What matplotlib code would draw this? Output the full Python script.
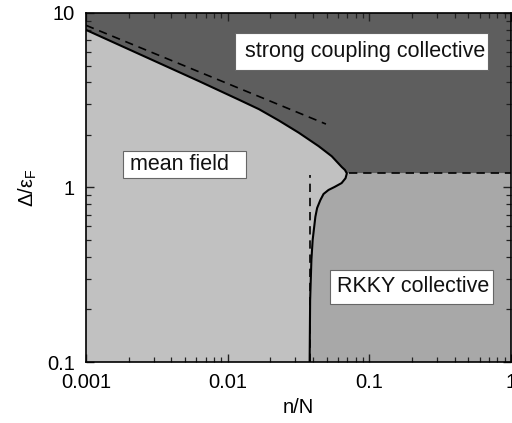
import matplotlib
matplotlib.use("Agg")
import matplotlib.pyplot as plt
from matplotlib.patches import Rectangle
from matplotlib.ticker import FixedLocator, FixedFormatter, LogLocator, NullFormatter

plt.rcParams['font.family'] = ['Liberation Sans', 'DejaVu Sans']
plt.rcParams['mathtext.fontset'] = 'custom'
plt.rcParams['mathtext.rm'] = 'Liberation Sans'
plt.rcParams['mathtext.it'] = 'Liberation Sans:italic'

# Phase boundary (solid): upper branch to the nose, then lower branch
upper_x = [0.001, 0.00631, 0.01205, 0.01664, 0.02298, 0.03177, 0.04387, 0.0543, 0.0639, 0.0673, 0.0694]
upper_y = [8.0, 4.06, 3.18, 2.81, 2.42, 2.06, 1.725, 1.51, 1.31, 1.26, 1.205]
lower_x = [0.0694, 0.0679, 0.0637, 0.0568, 0.0515, 0.0475, 0.0451, 0.0428, 0.0416, 0.0398, 0.039, 0.0382, 0.0379]
lower_y = [1.205, 1.13, 1.06, 1.007, 0.968, 0.918, 0.847, 0.763, 0.68, 0.50, 0.385, 0.226, 0.1]

# dashed asymptotes
dash1_x = [0.001, 0.0494]
dash1_y = [8.5, 2.31]
vdash_x = [0.0379, 0.0379]
vdash_y = [0.1, 1.18]
hdash_x = [0.0713, 1.0]
hdash_y = [1.205, 1.205]

xlim = (0.001, 1.0)
ylim = (0.1, 10.0)
xticks = [0.001, 0.01, 0.1, 1]
xticklabels = ['0.001', '0.01', '0.1', '1']
yticks = [0.1, 1, 10]
yticklabels = ['0.1', '1', '10']

region_labels = ['mean field', 'strong coupling collective', 'RKKY collective']

c_light = '#c1c1c1'
c_mid = '#a8a8a8'
c_dark = '#5e5e5e'

fig = plt.figure(figsize=(5.12, 4.23), dpi=100)
ax = fig.add_axes([86/512, 61/423, 425/512, 349/423])
ax.set_xscale('log')
ax.set_yscale('log')
ax.set_xlim(*xlim)
ax.set_ylim(*ylim)
ax.set_facecolor(c_light)

# dark region
dx = upper_x + [xlim[1], xlim[1], xlim[0]]
dy = upper_y + [hdash_y[0], ylim[1], ylim[1]]
ax.fill(dx, dy, color=c_dark, lw=0, zorder=1)
# medium region
mx = lower_x + [xlim[1], xlim[1]]
my = lower_y + [ylim[0], hdash_y[0]]
ax.fill(mx, my, color=c_mid, lw=0, zorder=1)

ax.plot(upper_x + lower_x[1:], upper_y + lower_y[1:], color='black', lw=1.5, zorder=3,
        solid_joinstyle='round')
for xs, ys in [(dash1_x, dash1_y), (vdash_x, vdash_y), (hdash_x, hdash_y)]:
    ax.plot(xs, ys, color='black', lw=1.2, dashes=(5, 3.5), zorder=3)

ax.xaxis.set_major_locator(FixedLocator(xticks))
ax.xaxis.set_major_formatter(FixedFormatter(xticklabels))
ax.yaxis.set_major_locator(FixedLocator(yticks))
ax.yaxis.set_major_formatter(FixedFormatter(yticklabels))
ax.xaxis.set_minor_locator(LogLocator(base=10, subs=range(2, 10)))
ax.yaxis.set_minor_locator(LogLocator(base=10, subs=range(2, 10)))
ax.xaxis.set_minor_formatter(NullFormatter())
ax.yaxis.set_minor_formatter(NullFormatter())
ax.tick_params(which='both', direction='in', top=True, right=True, labelsize=14.5, color='#222222')
ax.tick_params(which='major', length=6, width=1.0, pad=8)
ax.tick_params(which='minor', length=3.5, width=0.9)
for s in ax.spines.values():
    s.set_linewidth(1.2)
    s.set_zorder(5)

ax.set_xlabel('n/N', fontsize=14.5, labelpad=4)
ax.set_ylabel(r'Δ/ε$_{\rm F}$', fontsize=14.5, labelpad=6)

# label boxes (axes fraction): (box x0, box x1, box y0, box y1, text x, text y)
boxes = [(0.087, 0.376, 0.527, 0.605, 0.1035, 0.566),
         (0.3506, 0.9459, 0.837, 0.943, 0.374, 0.890),
         (0.574, 0.958, 0.166, 0.264, 0.590, 0.215)]
for lab, (bx0, bx1, by0, by1, tx, ty) in zip(region_labels, boxes):
    ax.add_patch(Rectangle((bx0, by0), bx1 - bx0, by1 - by0, transform=ax.transAxes,
                           facecolor='white', edgecolor='#666666', lw=0.8, zorder=6))
    ax.text(tx, ty, lab, transform=ax.transAxes, fontsize=15.5, va='center', ha='left',
            color='#111111', zorder=7)

fig.savefig('out.png', dpi=100)
